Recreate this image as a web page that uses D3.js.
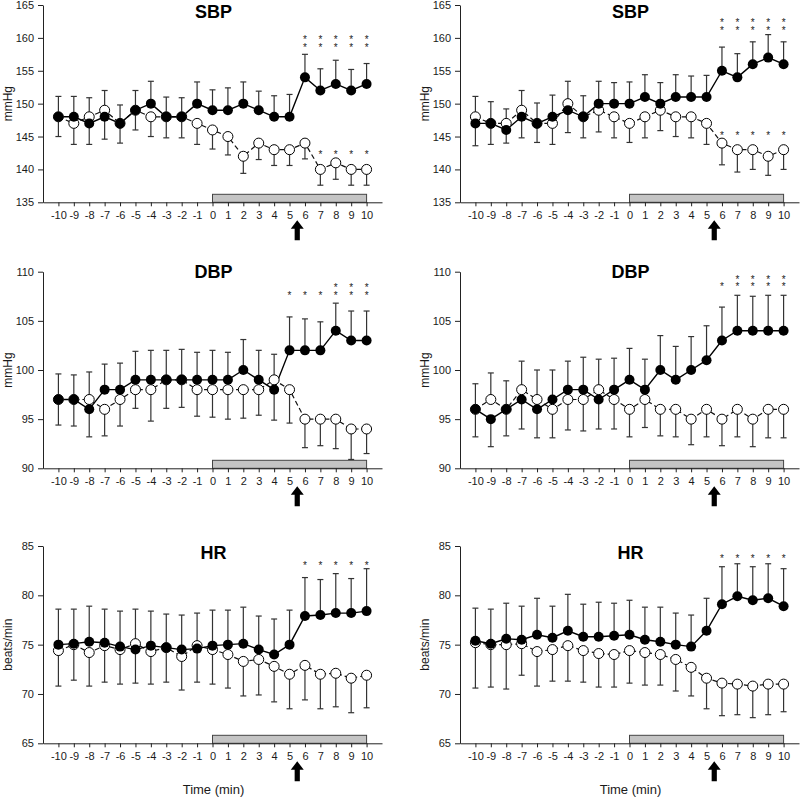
<!DOCTYPE html>
<html><head><meta charset="utf-8">
<script src="https://cdn.jsdelivr.net/npm/d3@7"></script>
<style>
body{margin:0;background:#fff}
svg{display:block;font-family:"Liberation Sans",Arial,sans-serif}
</style>
</head><body>
<svg id="chart" width="800" height="798"></svg>
<script>
// ---------- data ----------
const minutes = [-10,-9,-8,-7,-6,-5,-4,-3,-2,-1,0,1,2,3,4,5,6,7,8,9,10];
const xTickLabels = ["-10","-9","-8","-7","-6","-5","-4","-3","-2","-1","0","1","2","3","4","5","6","7","8","9","10"];
const sbpTicks = [135,140,145,150,155,160,165];
const dbpTicks = [90,95,100,105,110];
const hrTicks = [65,70,75,80,85];
const panelTitles = ["SBP","DBP","HR"];
const yLabels = ["mmHg","mmHg","beats/min"];
const xLabel = "Time (min)";
const interventionStart = 0, interventionEnd = 10, arrowAt = 5.5;

// SBP, left panel
const sbpL_filled   = [148,148,147,148,147,149,150,148,148,150,149,149,150,149,148,148,154,152,153,152,153];
const sbpL_filledSD = [3.1,3.1,3.2,3.4,2.8,3.0,3.4,3.0,2.9,3.3,3.1,3.4,3.3,2.9,3.2,3.4,3.5,3.3,3.6,3.2,3.1];
const sbpL_open     = [148,147,148,149,147,149,148,148,148,147,146,145,142,144,143,143,144,140,141,140,140];
const sbpL_openSD   = [3.0,3.2,2.9,3.0,3.0,3.0,3.0,3.2,3.2,3.2,2.9,2.8,2.6,2.5,2.4,2.4,2.4,2.4,2.5,2.4,2.4];
const sbpL_filledStars = [0,0,0,0,0,0,0,0,0,0,0,0,0,0,0,0,2,2,2,2,2];
const sbpL_openStars   = [0,0,0,0,0,0,0,0,0,0,0,0,0,0,0,0,0,1,1,1,1];

// SBP, right panel
const sbpR_filled   = [147,147,146,148,147,148,149,148,150,150,150,151,150,151,151,151,155,154,156,157,156];
const sbpR_filledSD = [3.4,3.3,2.0,3.2,3.1,3.3,3.4,3.2,3.4,3.2,3.3,3.4,3.2,3.4,3.2,3.3,3.6,3.6,3.4,3.5,3.4];
const sbpR_open     = [148,147,147,149,147,147,150,148,149,148,147,148,149,148,148,147,144,143,143,142,143];
const sbpR_openSD   = [3.1,3.2,2.2,3.0,2.9,3.2,3.4,3.2,3.3,3.2,2.9,3.2,3.1,3.0,3.2,3.2,3.3,3.4,3.0,2.9,3.0];
const sbpR_filledStars = [0,0,0,0,0,0,0,0,0,0,0,0,0,0,0,0,2,2,2,2,2];
const sbpR_openStars   = [0,0,0,0,0,0,0,0,0,0,0,0,0,0,0,0,1,1,1,1,1];

// DBP, left panel
const dbpL_filled   = [97,97,96,98,98,99,99,99,99,99,99,99,100,99,98,102,102,102,104,103,103];
const dbpL_filledSD = [2.6,2.5,2.8,2.6,2.7,2.9,3.0,3.0,3.1,2.8,3.0,2.8,3.1,3.0,3.1,3.4,3.2,2.9,2.8,3.0,3.0];
const dbpL_open     = [97,97,97,96,97,98,98,99,99,98,98,98,98,98,99,98,95,95,95,94,94];
const dbpL_openSD   = [2.6,2.7,2.8,2.7,2.7,1.9,3.2,2.9,2.8,2.7,2.8,3.0,2.9,2.6,2.6,3.4,2.9,2.7,3.0,3.1,2.5];
const dbpL_filledStars = [0,0,0,0,0,0,0,0,0,0,0,0,0,0,0,1,1,1,2,2,2];
const dbpL_openStars   = [0,0,0,0,0,0,0,0,0,0,0,0,0,0,0,0,0,0,0,0,0];

// DBP, right panel
const dbpR_filled   = [96,95,96,97,96,97,98,98,97,98,99,98,100,99,100,101,103,104,104,104,104];
const dbpR_filledSD = [2.6,2.8,2.9,3.0,2.9,3.0,2.9,3.3,3.0,3.2,3.2,3.1,3.5,3.4,3.4,3.5,3.4,3.6,3.5,3.6,3.6];
const dbpR_open     = [96,97,96,98,97,96,97,97,98,97,96,97,96,96,95,96,95,96,95,96,96];
const dbpR_openSD   = [2.8,2.7,2.7,2.9,3.0,2.9,3.1,3.2,3.1,3.0,2.8,2.85,2.7,2.8,2.6,2.8,2.7,2.8,2.8,2.9,2.9];
const dbpR_filledStars = [0,0,0,0,0,0,0,0,0,0,0,0,0,0,0,0,1,2,2,2,2];
const dbpR_openStars   = [0,0,0,0,0,0,0,0,0,0,0,0,0,0,0,0,0,0,0,0,0];

// HR, left panel
const hrL_filled   = [75.0,75.1,75.3,75.2,74.8,74.5,74.9,74.7,74.5,74.6,74.9,75.0,75.1,74.5,74.0,75.0,77.9,78.0,78.2,78.2,78.4];
const hrL_filledSD = [3.6,3.5,3.6,3.4,3.6,3.4,3.5,3.4,3.5,3.4,3.6,3.5,3.7,3.4,3.6,3.5,3.9,3.6,4.0,3.5,4.3];
const hrL_open     = [74.4,75.0,74.2,74.9,74.5,75.1,74.3,74.7,73.8,74.9,74.5,74.0,73.3,73.5,72.8,72.0,72.9,72.0,72.1,71.6,71.9];
const hrL_openSD   = [3.6,3.6,3.4,3.7,3.5,3.5,3.3,3.5,3.4,3.3,3.5,3.4,3.5,3.6,3.6,3.5,3.5,3.5,3.4,3.5,3.3];
const hrL_filledStars = [0,0,0,0,0,0,0,0,0,0,0,0,0,0,0,0,1,1,1,1,1];
const hrL_openStars   = [0,0,0,0,0,0,0,0,0,0,0,0,0,0,0,0,0,0,0,0,0];

// HR, right panel
const hrR_filled   = [75.4,75.1,75.6,75.5,76.0,75.7,76.4,75.8,75.8,75.9,76.0,75.5,75.3,75.0,74.8,76.4,79.1,79.9,79.5,79.7,78.9];
const hrR_filledSD = [3.3,3.5,3.6,3.4,3.7,3.2,3.7,3.3,3.5,3.3,3.5,3.3,3.5,3.2,3.2,3.3,3.8,3.3,3.4,3.5,3.8];
const hrR_open     = [75.2,75.0,75.0,75.1,74.3,74.5,74.9,74.4,74.1,74.0,74.4,74.2,74.0,73.5,72.7,71.6,71.1,71.0,70.8,71.0,71.0];
const hrR_openSD   = [4.6,4.3,4.5,3.2,3.5,3.2,3.6,3.2,3.4,3.3,3.3,3.3,3.1,3.2,2.9,3.1,3.3,3.1,3.2,3.1,2.8];
const hrR_filledStars = [0,0,0,0,0,0,0,0,0,0,0,0,0,0,0,0,1,1,1,1,1];
const hrR_openStars   = [0,0,0,0,0,0,0,0,0,0,0,0,0,0,0,0,0,0,0,0,0];

// star annotation levels (data units, lowest star of each stack)
const starLevels = {
  sbpL:{filled:158.9, open:142.5}, sbpR:{filled:161.45, open:145.4},
  dbpL:{filled:107.8, open:0},     dbpR:{filled:108.65, open:0},
  hrL:{filled:83.25, open:0},      hrR:{filled:83.9, open:0}
};

// ---------- layout ----------
const colRanges = [[43,382],[460,799]];
const rowRanges = [[202.3,5],[468.3,271.7],[743.3,546]];
const titleOffset = [6,0,6];
const yDomains = [[135,165],[90,110],[65,85]];
const yTicksByRow = [sbpTicks, dbpTicks, hrTicks];

const panels = [
  {row:0,col:0,key:"sbpL",f:sbpL_filled,fs:sbpL_filledSD,o:sbpL_open,os:sbpL_openSD,fst:sbpL_filledStars,ost:sbpL_openStars},
  {row:0,col:1,key:"sbpR",f:sbpR_filled,fs:sbpR_filledSD,o:sbpR_open,os:sbpR_openSD,fst:sbpR_filledStars,ost:sbpR_openStars},
  {row:1,col:0,key:"dbpL",f:dbpL_filled,fs:dbpL_filledSD,o:dbpL_open,os:dbpL_openSD,fst:dbpL_filledStars,ost:dbpL_openStars},
  {row:1,col:1,key:"dbpR",f:dbpR_filled,fs:dbpR_filledSD,o:dbpR_open,os:dbpR_openSD,fst:dbpR_filledStars,ost:dbpR_openStars},
  {row:2,col:0,key:"hrL",f:hrL_filled,fs:hrL_filledSD,o:hrL_open,os:hrL_openSD,fst:hrL_filledStars,ost:hrL_openStars},
  {row:2,col:1,key:"hrR",f:hrR_filled,fs:hrR_filledSD,o:hrR_open,os:hrR_openSD,fst:hrR_filledStars,ost:hrR_openStars}
];

const svg = d3.select("#chart");
const txt = "#1a1a1a";
const starGap = 7.5;

panels.forEach(p => {
  const g = svg.append("g");
  const x = d3.scaleLinear().domain([-11,11]).range(colRanges[p.col]);
  const y = d3.scaleLinear().domain(yDomains[p.row]).range(rowRanges[p.row]);
  const y0 = y.range()[0];

  // intervention bar
  g.append("rect")
    .attr("x", x(interventionStart)).attr("y", y0-8)
    .attr("width", x(interventionEnd)-x(interventionStart)).attr("height", 8)
    .attr("fill","#c4c4c4").attr("stroke","#444").attr("stroke-width",1);

  // axes
  const ya = g.append("g").attr("transform",`translate(${x.range()[0]},0)`)
    .call(d3.axisLeft(y).tickValues(yTicksByRow[p.row]).tickSize(5).tickSizeOuter(0).tickPadding(4).tickFormat(d3.format("d")));
  const xa = g.append("g").attr("transform",`translate(0,${y0})`)
    .call(d3.axisBottom(x).tickValues(minutes).tickSize(4).tickSizeOuter(0).tickPadding(5).tickFormat((d,i)=>xTickLabels[i]));
  [ya,xa].forEach(a=>{
    a.attr("font-family",null).attr("font-size",null);
    a.selectAll("text").attr("font-size","11px").attr("fill",txt);
    a.selectAll("line,path").attr("stroke","#222");
  });

  // error bars: the higher series at each time point gets the upward bar
  const bars = [];
  minutes.forEach((m,i)=>{
    const fUp = p.f[i] >= p.o[i];
    bars.push({m, v:p.f[i], e: fUp ? p.f[i]+p.fs[i] : p.f[i]-p.fs[i]});
    bars.push({m, v:p.o[i], e: fUp ? p.o[i]-p.os[i] : p.o[i]+p.os[i]});
  });
  const eb = g.append("g").attr("stroke","#333").attr("stroke-width",1.2);
  eb.selectAll("line.v").data(bars).join("line")
    .attr("x1",d=>x(d.m)).attr("x2",d=>x(d.m))
    .attr("y1",d=>y(d.v)).attr("y2",d=>y(d.e));
  eb.selectAll("line.c").data(bars).join("line")
    .attr("x1",d=>x(d.m)-3).attr("x2",d=>x(d.m)+3)
    .attr("y1",d=>y(d.e)).attr("y2",d=>y(d.e));

  // lines
  const line = d3.line().x((d,i)=>x(minutes[i])).y(d=>y(d));
  g.append("path").attr("d",line(p.o)).attr("fill","none").attr("stroke","#111")
    .attr("stroke-width",1.2).attr("stroke-dasharray","5,3");
  g.append("path").attr("d",line(p.f)).attr("fill","none").attr("stroke","#000")
    .attr("stroke-width",1.4);

  // markers
  g.append("g").selectAll("circle").data(p.o).join("circle")
    .attr("cx",(d,i)=>x(minutes[i])).attr("cy",d=>y(d)).attr("r",5)
    .attr("fill","#fff").attr("stroke","#000").attr("stroke-width",1);
  g.append("g").selectAll("circle").data(p.f).join("circle")
    .attr("cx",(d,i)=>x(minutes[i])).attr("cy",d=>y(d)).attr("r",5)
    .attr("fill","#000");

  // significance stars: one text element per stack, each glyph positioned via x/y lists
  const stacks = [];
  minutes.forEach((m,i)=>{
    if(p.fst[i]>0) stacks.push({m, n:p.fst[i], yc:y(starLevels[p.key].filled)});
    if(p.ost[i]>0) stacks.push({m, n:p.ost[i], yc:y(starLevels[p.key].open)});
  });
  g.append("g").selectAll("text").data(stacks).join("text")
    .attr("text-anchor","middle").attr("font-size","10px").attr("fill","#222")
    .attr("x",d=>d3.range(d.n).map(()=>x(d.m).toFixed(2)).join(" "))
    .attr("y",d=>d3.range(d.n).map(k=>(d.yc-(d.n-1-k)*starGap+5.5).toFixed(2)).join(" "))
    .text(d=>"*".repeat(d.n));

  // arrow
  const ax = x(arrowAt), at = y0+18;
  g.append("path")
    .attr("d",`M${ax},${at} L${ax+6.5},${at+8.5} L${ax+2.6},${at+8.5} L${ax+2.6},${at+20} L${ax-2.6},${at+20} L${ax-2.6},${at+8.5} L${ax-6.5},${at+8.5} Z`)
    .attr("fill","#000");

  // title
  g.append("text").attr("x",x(0)+1).attr("y",y.range()[1]+titleOffset[p.row]+6.5)
    .attr("text-anchor","middle").attr("font-size","18px").attr("font-weight","bold").attr("fill","#000")
    .text(panelTitles[p.row]);

  // y label
  const ly = (y.range()[0]+y.range()[1])/2;
  const lx = x.range()[0]-31;
  g.append("text").attr("transform",`translate(${lx},${ly}) rotate(-90)`)
    .attr("text-anchor","middle").attr("font-size","12px").attr("fill",txt).text(yLabels[p.row]);

  // x label
  if(p.row===2){
    g.append("text").attr("x",x(0)+1).attr("y",794).attr("text-anchor","middle")
      .attr("font-size","13px").attr("fill",txt).text(xLabel);
  }
});
</script>
</body></html>
